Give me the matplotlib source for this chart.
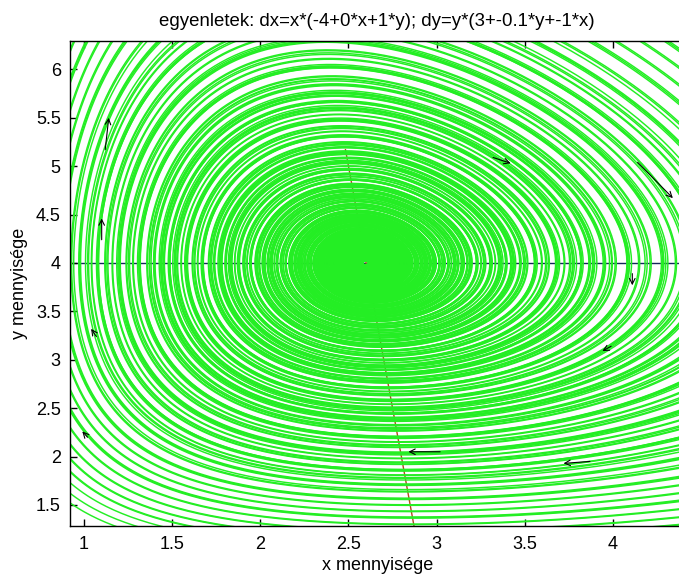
import matplotlib
matplotlib.use('Agg')

import matplotlib.pyplot as plt
import numpy as np
from matplotlib.ticker import MultipleLocator, FormatStrFormatter

# dx = x*(a0 + a1*x + a2*y); dy = y*(b0 + b1*y + b2*x)
coef_x = [-4, 0, 1]
coef_y = [3, -0.1, -1]

# kezdőpontok: az y=4 egyenesen, a kép jobb szélén túl (kis csoportokban)
start_x = [4.45, 4.47, 4.6, 4.62, 4.64, 4.78, 4.8, 4.95, 4.97, 4.99,
           5.12, 5.14, 5.3, 5.32, 5.34, 5.5, 5.52, 5.68, 5.7, 5.72,
           5.88, 5.9, 6.05, 6.07, 6.09, 6.25, 6.27, 6.45, 6.47, 6.49,
           6.65, 6.67, 6.85, 6.87, 7.05, 7.07, 7.09, 7.3, 7.32, 7.55,
           7.57, 7.8, 7.82, 8.05, 8.07, 8.3, 8.55, 8.8]
start_y = [4.0] * len(start_x)
t_end = 24.0

# nullklínák
null_y_level = 4.0
null_x_yrange = [1.0, 5.17]

# irányjelző nyilak
arrow_x = [1.12, 1.10, 1.07, 1.02, 3.32, 4.14, 4.11, 3.02, 3.87, 3.99]
arrow_y = [5.17, 4.24, 3.24, 2.20, 5.09, 5.04, 3.89, 2.05, 1.95, 3.14]
arrow_dx = [0.02, 0.0, -0.03, -0.03, 0.10, 0.20, 0.0, -0.18, -0.15, -0.05]
arrow_dy = [0.33, 0.22, 0.08, 0.06, -0.06, -0.37, -0.12, 0.0, -0.02, -0.05]

x_ticks = [1, 1.5, 2, 2.5, 3, 3.5, 4]


def field(x, y):
    dx = x * (coef_x[0] + coef_x[1] * x + coef_x[2] * y)
    dy = y * (coef_y[0] + coef_y[1] * y + coef_y[2] * x)
    return dx, dy


def integrate(x0, y0, t, h):
    # RK4, az összes kezdőpontra egyszerre
    x = np.array(x0, dtype=float)
    y = np.array(y0, dtype=float)
    xs, ys = [x.copy()], [y.copy()]
    for _ in range(int(abs(t) / abs(h))):
        k1 = field(x, y)
        k2 = field(x + h / 2 * k1[0], y + h / 2 * k1[1])
        k3 = field(x + h / 2 * k2[0], y + h / 2 * k2[1])
        k4 = field(x + h * k3[0], y + h * k3[1])
        x = x + h / 6 * (k1[0] + 2 * k2[0] + 2 * k3[0] + k4[0])
        y = y + h / 6 * (k1[1] + 2 * k2[1] + 2 * k3[1] + k4[1])
        xs.append(x.copy())
        ys.append(y.copy())
    return np.array(xs), np.array(ys)


plt.rcParams['font.family'] = ['Liberation Sans', 'DejaVu Sans']

fig = plt.figure(figsize=(6.79, 5.76), dpi=100)
ax = fig.add_axes([0.1038, 0.0868, 0.9035, 0.842])

px, py = integrate(start_x, start_y, t_end, 0.005)
ax.plot(px, py, color='#24ee24', linewidth=1.05, zorder=2)

ax.axhline(null_y_level, color='#14285a', linewidth=1.0, zorder=1)
ny = np.array(null_x_yrange)
nx = (coef_y[0] + coef_y[1] * ny) / -coef_y[2]
ax.plot(nx, ny, color='#b4461e', linewidth=1.0, zorder=1)

for x, y, dx, dy in zip(arrow_x, arrow_y, arrow_dx, arrow_dy):
    ax.annotate('', xy=(x + dx, y + dy), xytext=(x, y),
                arrowprops=dict(arrowstyle='->', color='black', lw=0.8,
                                shrinkA=0, shrinkB=0), zorder=3)

ax.set_xlim(0.923, 4.403)
ax.set_ylim(1.283, 6.293)
ax.set_xticks(x_ticks)
ax.yaxis.set_major_locator(MultipleLocator(0.5))
ax.xaxis.set_major_formatter(FormatStrFormatter('%g'))
ax.yaxis.set_major_formatter(FormatStrFormatter('%g'))
ax.tick_params(direction='in', top=True, right=False, labelsize=13,
               length=5, width=1, pad=7)
ax.spines['right'].set_visible(False)
for s in ['left', 'top', 'bottom']:
    ax.spines[s].set_linewidth(1.0)

ax.set_xlabel('x mennyisége', fontsize=13, labelpad=3)
ax.set_ylabel('y mennyisége', fontsize=13, labelpad=6)
ax.set_title('egyenletek: dx=x*(-4+0*x+1*y); dy=y*(3+-0.1*y+-1*x)',
             fontsize=13.4, pad=11)

plt.savefig('out.png', dpi=100)
plt.close()
